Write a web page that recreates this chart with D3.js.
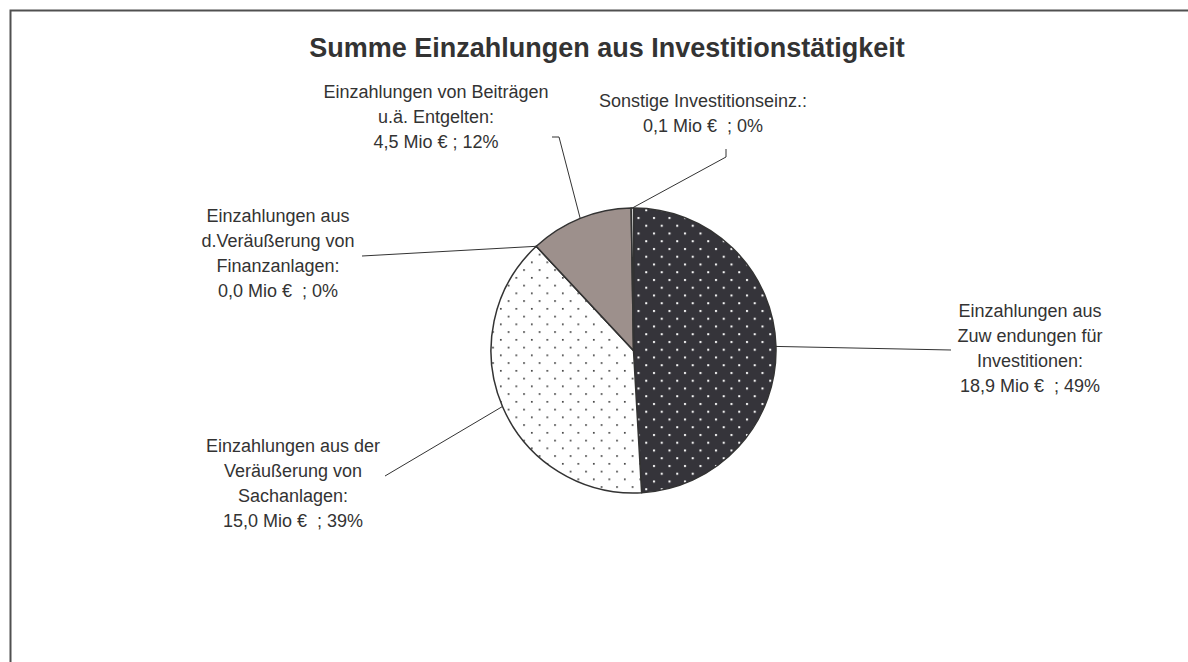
<!DOCTYPE html>
<html>
<head>
<meta charset="utf-8">
<script src="https://cdn.jsdelivr.net/npm/d3@7/dist/d3.min.js"></script>
<style>
  html, body { margin: 0; padding: 0; background: #fff; }
  svg { display: block; }
  text { font-family: "Liberation Sans", Arial, sans-serif; fill: #333; }
</style>
</head>
<body>
<svg id="chart" width="1188" height="662"></svg>
<script>
// ---- data ----
const categories = [
  "Einzahlungen aus\nZuw endungen für\nInvestitionen:",
  "Einzahlungen aus der\nVeräußerung von\nSachanlagen:",
  "Einzahlungen aus\nd.Veräußerung von\nFinanzanlagen:",
  "Einzahlungen von Beiträgen\nu.ä. Entgelten:",
  "Sonstige Investitionseinz.:"
];
const values = [18.9, 15.0, 0.0, 4.5, 0.1];   // Mio €
const separators = ["  ; ", "  ; ", "  ; ", " ; ", "  ; "];
const title = "Summe Einzahlungen aus Investitionstätigkeit";

// ---- layout / style ----
const W = 1188, H = 662;
const cx = 633.5, cy = 350.5, R = 142.5;
const fills = ["url(#darkDots)", "url(#lightDots)", "#ffffff", "#9d908c", "#ffffff"];
// label anchor (text centre x, first baseline y) and leader elbow points
const labelLayout = [
  { x: 1030, y: 317, leader: [[951, 350]] },
  { x: 293,  y: 452, leader: [[385, 476]] },
  { x: 278,  y: 222, leader: [[362, 256]] },
  { x: 436,  y: 98,  leader: [[559, 137], [552, 137]] },
  { x: 703,  y: 107, leader: [[726, 157], [726, 149]] }
];
const lineH = 25;

const svg = d3.select("#chart");
const defs = svg.append("defs");

// dark pattern: dark fill with white dots
const pd = defs.append("pattern").attr("id", "darkDots")
  .attr("patternUnits", "userSpaceOnUse").attr("width", 15.5).attr("height", 15.5)
  .attr("x", 2).attr("y", 4);
pd.append("rect").attr("width", 15.5).attr("height", 15.5).attr("fill", "#35343a");
pd.append("rect").attr("x", 2).attr("y", 2).attr("width", 2).attr("height", 2).attr("fill", "#ffffff");
pd.append("rect").attr("x", 9.75).attr("y", 9.75).attr("width", 2).attr("height", 2).attr("fill", "#ffffff");

// light pattern: white fill with dark dots
const pl = defs.append("pattern").attr("id", "lightDots")
  .attr("patternUnits", "userSpaceOnUse").attr("width", 15.5).attr("height", 15.5)
  .attr("x", 4).attr("y", 2);
pl.append("rect").attr("width", 15.5).attr("height", 15.5).attr("fill", "#ffffff");
pl.append("rect").attr("x", 2).attr("y", 2).attr("width", 1.6).attr("height", 1.6).attr("fill", "#2a2a2a");
pl.append("rect").attr("x", 9.75).attr("y", 9.75).attr("width", 1.6).attr("height", 1.6).attr("fill", "#2a2a2a");

// frame
svg.append("rect").attr("x", 10.5).attr("y", 10.5).attr("width", W + 20).attr("height", H + 20)
  .attr("fill", "none").attr("stroke", "#505050").attr("stroke-width", 2);

// title
svg.append("text").attr("x", 607).attr("y", 57).attr("text-anchor", "middle")
  .style("font-size", "27px").style("font-weight", "bold").style("fill", "#333")
  .text(title);

const total = d3.sum(values);
const pie = d3.pie().sort(null).value(d => d)(values);
const arc = d3.arc().innerRadius(0).outerRadius(R);

const g = svg.append("g").attr("transform", `translate(${cx},${cy})`);
g.selectAll("path.slice").data(pie).join("path").attr("class", "slice")
  .attr("d", arc)
  .attr("fill", (d, i) => fills[i])
  .attr("stroke", "#333")
  .attr("stroke-width", 1.5)
  .attr("stroke-linejoin", "round");

// leader lines
pie.forEach((d, i) => {
  const a = (d.startAngle + d.endAngle) / 2;
  const p0 = [cx + R * Math.sin(a), cy - R * Math.cos(a)];
  const pts = [p0].concat(labelLayout[i].leader);
  svg.append("path")
    .attr("d", d3.line()(pts))
    .attr("fill", "none").attr("stroke", "#333").attr("stroke-width", 1);
});

// labels
const fmt = d3.format(".1f");
pie.forEach((d, i) => {
  const lines = categories[i].split("\n");
  const pct = Math.round(values[i] / total * 100);
  lines.push(fmt(values[i]).replace(".", ",") + " Mio €" + separators[i] + pct + "%");
  const t = svg.append("text")
    .attr("text-anchor", "middle")
    .style("font-size", "18px")
    .style("white-space", "pre");
  lines.forEach((ln, k) => {
    t.append("tspan").attr("x", labelLayout[i].x).attr("y", labelLayout[i].y + k * lineH).text(ln);
  });
});
</script>
</body>
</html>
